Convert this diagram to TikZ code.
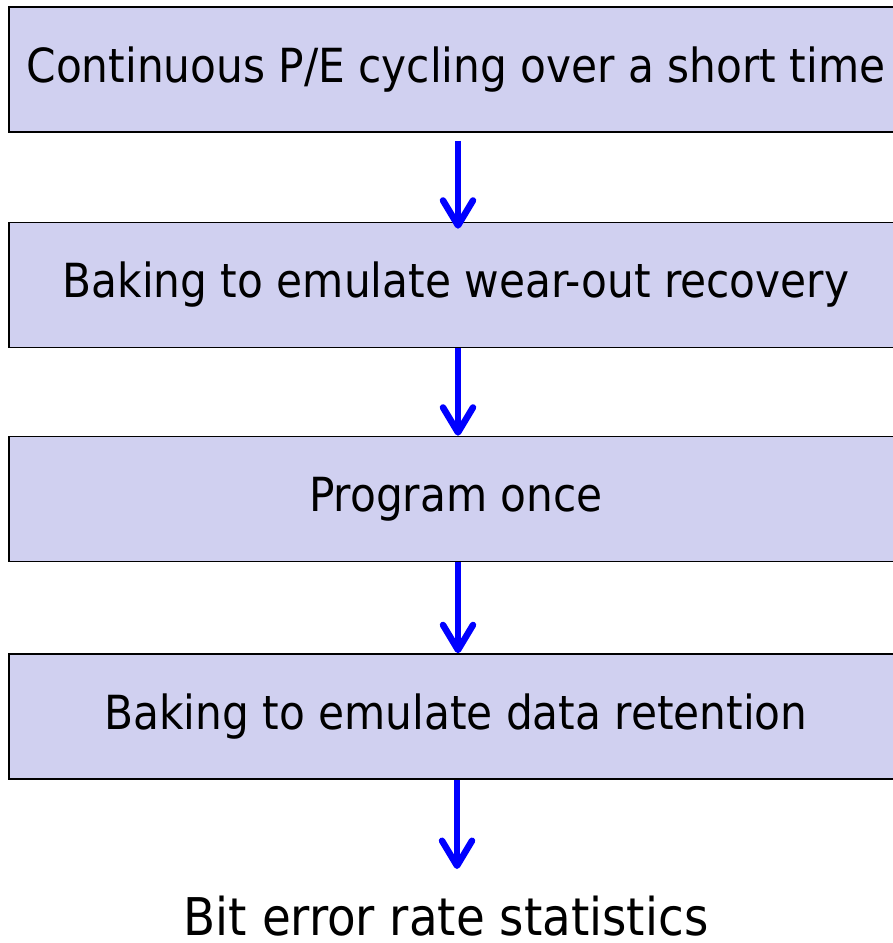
\documentclass[tikz,border=0pt]{standalone}
\usepackage{fontspec}
\setmainfont{DejaVu Sans Condensed}
\usetikzlibrary{arrows.meta}
\definecolor{boxfill}{RGB}{208,208,240}
\definecolor{flowblue}{RGB}{0,0,255}
\tikzset{
  stagebox/.style={draw=black, line width=1.6pt, fill=boxfill, rectangle,
    minimum width=894pt, minimum height=125pt, inner sep=0pt,
    font=\fontsize{47}{55}\selectfont},
  flowarrow/.style={draw=flowblue, line width=6.5pt,
    -{Straight Barb[length=25pt, width=30pt, round]}},
  resultlabel/.style={inner sep=0pt, anchor=base, font=\fontsize{52}{60}\selectfont}
}
\newcommand{\boxtext}[1]{\raisebox{-4pt}{#1}}
\begin{document}
\begin{tikzpicture}[x=1pt, y=-1pt]
  \useasboundingbox (0,0) rectangle (893,943);
  \fill[white] (0,0) rectangle (893,943);
  \clip (0,0) rectangle (893,943);
  \node[stagebox] (b1) at (456,69.5) {\boxtext{Continuous P/E cycling over a short time}};
  \node[stagebox] (b2) at (456,285) {\boxtext{Baking to emulate wear-out recovery}};
  \node[stagebox] (b3) at (456,499) {\boxtext{Program once}};
  \node[stagebox] (b4) at (456,716.5) {\boxtext{Baking to emulate data retention}};
  \node[resultlabel] (res) at (446,935) {Bit error rate statistics};
  \coordinate (end) at (457,869);
  \draw[flowarrow] ([xshift=2pt,yshift=-8pt]b1.south) -- ([xshift=2pt,yshift=-7pt]b2.north);
  \draw[flowarrow] ([xshift=2pt]b2.south) -- ([xshift=2pt]b3.north);
  \draw[flowarrow] ([xshift=2pt]b3.south) -- ([xshift=2pt]b4.north);
  \draw[flowarrow] ([xshift=1pt]b4.south) -- (end);
\end{tikzpicture}
\end{document}
